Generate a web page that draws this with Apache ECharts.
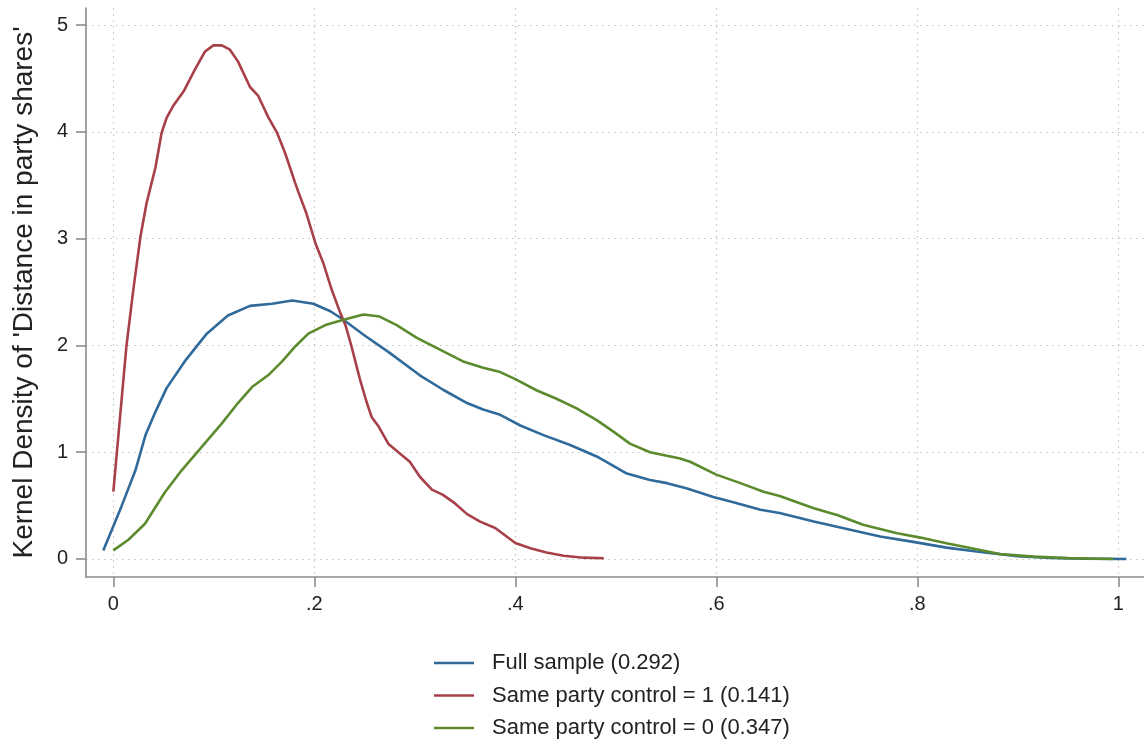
<!DOCTYPE html>
<html>
<head>
<meta charset="utf-8">
<script src="https://cdn.jsdelivr.net/npm/echarts@6/dist/echarts.min.js"></script>
<style>
  html, body { margin: 0; padding: 0; background: #fff; }
  #chart { width: 1144px; height: 744px; }
</style>
</head>
<body>
<div id="chart"></div>
<script>
// kernel density estimates
const fullX = [-0.01, 0.008, 0.022, 0.032, 0.042, 0.053, 0.071, 0.093, 0.114, 0.136, 0.158, 0.178, 0.199, 0.216, 0.229, 0.249, 0.275, 0.305, 0.329, 0.352, 0.368, 0.385, 0.405, 0.428, 0.454, 0.481, 0.511, 0.534, 0.551, 0.571, 0.597, 0.617, 0.644, 0.663, 0.697, 0.73, 0.763, 0.796, 0.829, 0.859, 0.882, 0.9, 0.932, 0.965, 1.008]
const fullY = [0.08, 0.49, 0.83, 1.16, 1.38, 1.60, 1.85, 2.11, 2.28, 2.37, 2.39, 2.42, 2.39, 2.32, 2.24, 2.10, 1.93, 1.72, 1.58, 1.46, 1.40, 1.35, 1.25, 1.16, 1.07, 0.96, 0.80, 0.74, 0.71, 0.66, 0.58, 0.53, 0.46, 0.43, 0.35, 0.28, 0.21, 0.16, 0.106, 0.07, 0.045, 0.025, 0.01, 0.003, 0.0]

const same1X = [0, 0.013, 0.02, 0.027, 0.033, 0.042, 0.048, 0.053, 0.06, 0.07, 0.081, 0.091, 0.0995, 0.108, 0.116, 0.124, 0.136, 0.144, 0.154, 0.163, 0.171, 0.181, 0.184, 0.192, 0.201, 0.209, 0.217, 0.226, 0.231, 0.237, 0.2455, 0.252, 0.257, 0.264, 0.2736, 0.2836, 0.295, 0.305, 0.317, 0.328, 0.34, 0.352, 0.365, 0.38, 0.39, 0.40, 0.415, 0.431, 0.448, 0.468, 0.488]
const same1Y = [0.63, 1.99, 2.53, 3.02, 3.33, 3.67, 3.99, 4.13, 4.25, 4.38, 4.58, 4.75, 4.81, 4.81, 4.77, 4.66, 4.42, 4.34, 4.14, 3.99, 3.80, 3.52, 3.44, 3.24, 2.96, 2.77, 2.53, 2.30, 2.19, 1.99, 1.68, 1.47, 1.33, 1.24, 1.08, 1.00, 0.91, 0.77, 0.65, 0.60, 0.52, 0.42, 0.35, 0.29, 0.22, 0.15, 0.10, 0.06, 0.03, 0.012, 0.006]

const same0X = [0, 0.015, 0.0315, 0.051, 0.068, 0.088, 0.108, 0.124, 0.138, 0.154, 0.168, 0.181, 0.194, 0.211, 0.229, 0.249, 0.265, 0.282, 0.302, 0.325, 0.348, 0.368, 0.385, 0.401, 0.421, 0.441, 0.461, 0.481, 0.498, 0.514, 0.534, 0.564, 0.574, 0.600, 0.624, 0.647, 0.663, 0.697, 0.721, 0.746, 0.78, 0.803, 0.829, 0.859, 0.882, 0.916, 0.949, 0.995]
const same0Y = [0.08, 0.18, 0.33, 0.62, 0.83, 1.05, 1.27, 1.46, 1.61, 1.72, 1.85, 1.99, 2.11, 2.19, 2.24, 2.29, 2.27, 2.19, 2.07, 1.96, 1.85, 1.79, 1.75, 1.68, 1.58, 1.50, 1.41, 1.30, 1.19, 1.08, 1.00, 0.94, 0.91, 0.79, 0.71, 0.63, 0.59, 0.475, 0.41, 0.32, 0.24, 0.20, 0.147, 0.09, 0.047, 0.022, 0.008, 0.0]

const seriesNames = ['Full sample (0.292)', 'Same party control = 1 (0.141)', 'Same party control = 0 (0.347)']
const xTicks = [0, 0.2, 0.4, 0.6, 0.8, 1]
const xTickLabels = ['0', '.2', '.4', '.6', '.8', '1']
const yTicks = [0, 1, 2, 3, 4, 5]
const yTitle = "Kernel Density of 'Distance in party shares'"

const colors = ['#2f6a9b', '#a8404a', '#5c8b2e']
const font = "'Liberation Sans', Arial, sans-serif"
const axisGrey = '#8c8c8c'

const zip = (xs, ys) => xs.map((x, i) => [x, ys[i]])

const chart = echarts.init(document.getElementById('chart'))

const gridLine = {
  show: true,
  lineStyle: { color: '#c4c4c4', width: 1.2, type: [1.5, 4.5] },
}

chart.setOption({
  animation: false,
  color: colors,
  textStyle: { fontFamily: font },
  grid: {
    left: 86,
    right: 0,
    top: 8,
    bottom: 167,
    containLabel: false,
    outerBoundsMode: 'none',
  },
  legend: {
    orient: 'vertical',
    left: 429,
    top: 647,
    icon: 'rect',
    itemWidth: 40,
    itemHeight: 2.5,
    itemGap: 10.5,
    textStyle: { fontSize: 22, color: '#222', fontFamily: font, padding: [0, 0, 0, 13] },
    data: seriesNames,
  },
  xAxis: {
    type: 'value',
    min: -0.0272,
    max: 1.0256,
    axisLine: { onZero: false, lineStyle: { color: axisGrey, width: 1.6 } },
    axisTick: { show: true, length: 10, customValues: xTicks, lineStyle: { color: axisGrey, width: 1.6 } },
    axisLabel: {
      customValues: xTicks,
      fontSize: 20,
      color: '#222',
      margin: 17,
      formatter: v => xTickLabels[xTicks.indexOf(v)] ?? String(v),
    },
    splitLine: gridLine,
  },
  yAxis: {
    type: 'value',
    min: -0.169,
    max: 5.16,
    name: yTitle,
    nameLocation: 'middle',
    nameGap: 48,
    nameTextStyle: { fontSize: 28, color: '#222', fontFamily: font },
    axisLine: { show: true, onZero: false, lineStyle: { color: axisGrey, width: 1.6 } },
    axisTick: { show: true, length: 10, customValues: yTicks, lineStyle: { color: axisGrey, width: 1.6 } },
    axisLabel: { customValues: yTicks, fontSize: 20, color: '#222', margin: 18 },
    splitLine: gridLine,
  },
  series: [
    { name: seriesNames[0], type: 'line', showSymbol: false, data: zip(fullX, fullY), lineStyle: { width: 2.6 }, z: 3 },
    { name: seriesNames[1], type: 'line', showSymbol: false, data: zip(same1X, same1Y), lineStyle: { width: 2.6 }, z: 4 },
    { name: seriesNames[2], type: 'line', showSymbol: false, data: zip(same0X, same0Y), lineStyle: { width: 2.6 }, z: 5 },
  ],
})
</script>
</body>
</html>
